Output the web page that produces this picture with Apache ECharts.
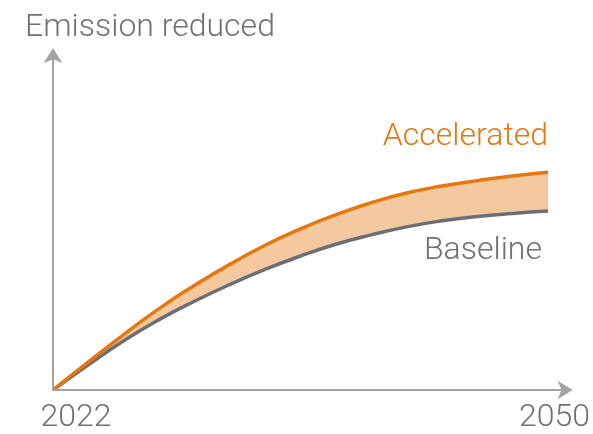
<!DOCTYPE html>
<html>
<head>
<meta charset="utf-8">
<script src="https://cdn.jsdelivr.net/npm/echarts@6/dist/echarts.min.js"></script>
<style>
html,body{margin:0;padding:0;background:#fff;}
#main{width:593px;height:434px;}
</style>
</head>
<body>
<div id="main"></div>
<script>
// data
var years = [2022, 2024, 2026, 2028, 2030, 2032, 2034, 2036, 2038, 2040, 2042, 2044, 2046, 2048, 2050];
var accelerated = [0, 8.4, 16.5, 24.3, 31.2, 37.5, 43.2, 48.1, 52.3, 55.9, 58.8, 60.9, 62.5, 63.9, 65.0];
var baseline = [0, 7.5, 14.7, 21.0, 26.5, 31.5, 36.0, 40.0, 43.5, 46.3, 48.7, 50.5, 51.8, 52.7, 53.4];
var yearLabels = [2022, 2050];

var textGray = '#6e717a';
var orange = '#e8760f';
var lineGray = '#6b6e77';
var axisGray = '#a3a3a3';

function pairs(xs, ys) {
	var out = [];
	for (var i = 0; i < xs.length; i++) {
		out.push([xs[i], ys[i]]);
	}
	return out;
}

var myChart = echarts.init(document.getElementById('main'));
var option = {
	animation : false,
	title : {
		text : 'Emission reduced',
		left : 20,
		top : 7,
		textStyle : {
			fontFamily : 'Roboto',
			fontWeight : 300,
			fontSize : 32,
			color : textGray
		}
	},
	grid : {
		left : 53,
		right : 24,
		top : 55,
		bottom : 44
	},
	xAxis : {
		type : 'value',
		min : 2022,
		max : 2051,
		z : 5,
		splitLine : { show : false },
		axisTick : { show : false },
		axisLine : {
			lineStyle : { color : axisGray, width : 2 },
			symbol : [ 'none', 'arrow' ],
			symbolSize : [ 14, 15 ],
			symbolOffset : [ 0, 7 ]
		},
		axisLabel : {
			customValues : yearLabels,
			margin : 12,
			formatter : function(v) {
				return v == 2022 ? '{a|' + v + '}' : '{b|' + v + '}';
			},
			rich : {
				a : {
					fontFamily : 'Roboto',
					fontWeight : 300,
					fontSize : 32,
					color : textGray,
					padding : [ 0, 0, 0, 46 ]
				},
				b : {
					fontFamily : 'Roboto',
					fontWeight : 300,
					fontSize : 32,
					color : textGray,
					padding : [ 0, 0, 0, 13 ]
				}
			}
		}
	},
	yAxis : {
		type : 'value',
		min : 0,
		max : 100,
		z : 5,
		splitLine : { show : false },
		axisTick : { show : false },
		axisLabel : { show : false },
		axisLine : {
			lineStyle : { color : axisGray, width : 2 },
			symbol : [ 'none', 'arrow' ],
			symbolSize : [ 14, 15 ],
			symbolOffset : [ 0, 7 ]
		}
	},
	series : [ {
		// orange band: fill under accelerated, then white under baseline
		name : 'bandTop',
		type : 'line',
		smooth : true,
		symbol : 'none',
		lineStyle : { opacity : 0 },
		areaStyle : { color : '#f5c9a0', opacity : 1 },
		data : pairs(years, accelerated),
		z : 1
	}, {
		name : 'bandBottom',
		type : 'line',
		smooth : true,
		symbol : 'none',
		lineStyle : { opacity : 0 },
		areaStyle : {
			color : '#ffffff',
			opacity : 1,
			shadowColor : '#ffffff',
			shadowBlur : 0,
			shadowOffsetX : 2
		},
		data : pairs(years, baseline),
		z : 1
	}, {
		name : 'Baseline',
		type : 'line',
		smooth : true,
		symbol : 'none',
		lineStyle : { color : lineGray, width : 3.5 },
		data : pairs(years, baseline),
		endLabel : {
			show : true,
			formatter : '{a}',
			distance : 0,
			align : 'right',
			offset : [ -6, 40 ],
			fontFamily : 'Roboto',
			fontWeight : 300,
			fontSize : 32,
			color : textGray
		},
		z : 2
	}, {
		name : 'Accelerated',
		type : 'line',
		smooth : true,
		symbol : 'none',
		lineStyle : { color : orange, width : 3.5 },
		data : pairs(years, accelerated),
		endLabel : {
			show : true,
			formatter : '{a}',
			distance : 0,
			align : 'right',
			offset : [ 0, -35 ],
			fontFamily : 'Roboto',
			fontWeight : 300,
			fontSize : 32,
			color : orange
		},
		z : 3
	} ]
};
myChart.setOption(option);
</script>
</body>
</html>
